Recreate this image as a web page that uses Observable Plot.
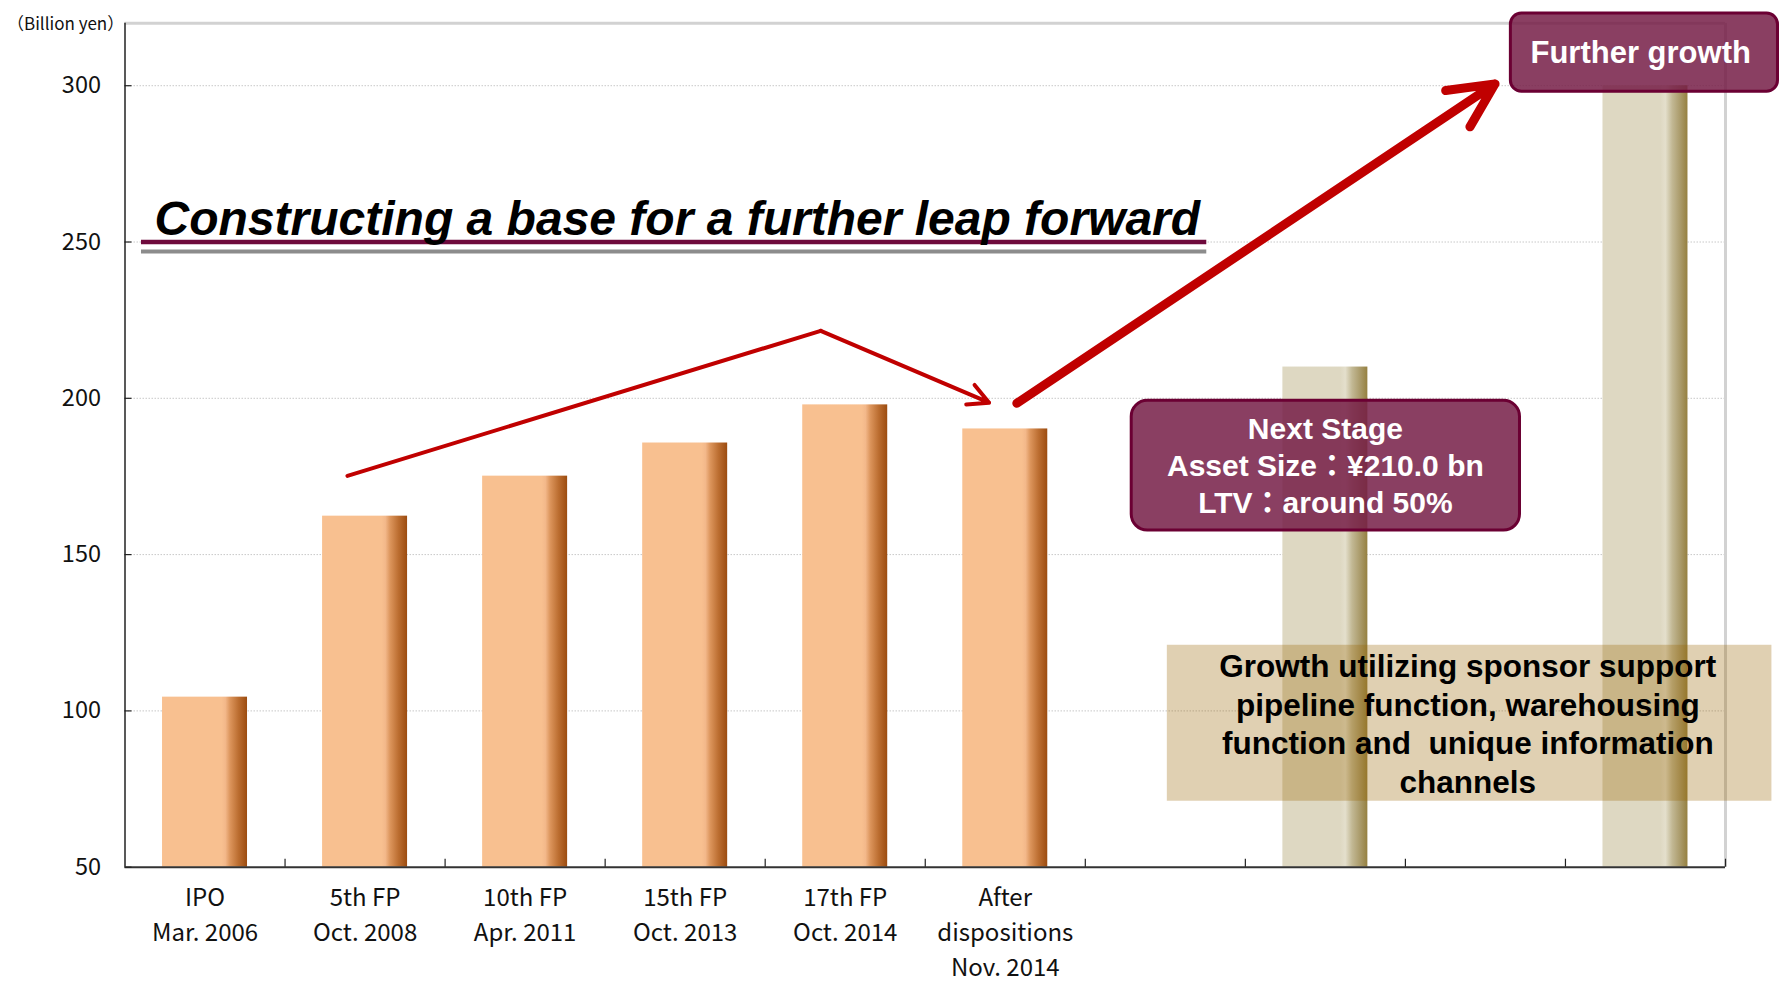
<!DOCTYPE html>
<html>
<head>
<meta charset="utf-8">
<script src="https://cdn.jsdelivr.net/npm/d3@7"></script>
<script src="https://cdn.jsdelivr.net/npm/@observablehq/plot@0.6"></script>
<style>
  html, body { margin: 0; padding: 0; background: #fff; }
  #chart svg { display: block; }
</style>
</head>
<body>
<div id="chart"></div>
<script>
// ---------- data ----------
const categoryLabels = [
  "IPO\nMar. 2006",
  "5th FP\nOct. 2008",
  "10th FP\nApr. 2011",
  "15th FP\nOct. 2013",
  "17th FP\nOct. 2014",
  "After\ndispositions\nNov. 2014",
  "", "", "", ""
];
const assetSize = [104.4, 162.3, 175.1, 185.7, 197.9, 190.2]; // billion yen
const stageSlots = [7, 9];
const stageValues = [210, 300];
const yTicks = [50, 100, 150, 200, 250, 300];
const yMin = 50, yMax = 320;
const yUnit = "（Billion yen）";
const titleText = "Constructing a base for a further leap forward";
const nextStageText = "Next Stage\nAsset Size：¥210.0 bn\nLTV：around 50%";
const furtherText = "Further growth";
const sponsorText = "Growth utilizing sponsor support\npipeline function, warehousing\nfunction and  unique information\nchannels";

// annotation anchors (x = category slot, y = billion yen)
const trendLine = [{x: 1.39, y: 175.2}, {x: 4.347, y: 221.6}];
const trendArrow = [{x1: 4.347, y1: 221.6, x2: 5.399, y2: 198.6}];
const growthArrow = [{x1: 5.572, y1: 198.4, x2: 8.56, y2: 300.6}];
const nextStageBox = [{x1: 6.29, x2: 8.716, y1: 157.7, y2: 199.2, tx: 7.5, ty: 178.9}];
const furtherBox = [{x1: 8.659, x2: 10.328, y1: 298.1, y2: 323.1, tx: 9.47, ty: 310.5}];
const sponsorBox = [{x1: 6.5125, x2: 10.29, y1: 71.1, y2: 121.0, tx: 8.39, ty: 96.2}];
const titleUnder = [{x1: 0.103, x2: 6.759, y: 250.0}];
const titleGray = [{x1: 0.103, x2: 6.759, y: 247.0}];
const titleAnchor = [{x: 0.185, y: 257.1}];

// ---------- derived tables ----------
const barGap = 0.2345;
const bars = assetSize.map((v, i) => ({slot: i, value: v}));
const stageBars = stageSlots.map((s, i) => ({slot: s, value: stageValues[i]}));
const xTickSlots = d3.range(1, categoryLabels.length + 1);
const gridValues = yTicks.filter(v => v > yMin);

const tickFont = "'Noto Sans CJK JP', 'Noto Sans', sans-serif";
const boldFont = "'Liberation Sans', Arial, 'Noto Sans CJK JP', sans-serif";

const svg = Plot.plot({
  width: 1781,
  height: 982,
  marginLeft: 124.5,
  marginRight: 56,
  marginTop: 22.7,
  marginBottom: 115.3,
  style: {background: "white", fontFamily: tickFont, overflow: "visible"},
  x: {type: "linear", domain: [0, categoryLabels.length], axis: null},
  y: {domain: [yMin, yMax], axis: null},
  marks: [
    // grid
    Plot.ruleY(gridValues, {stroke: "#c8c8c8", strokeWidth: 1, strokeDasharray: "1.5,1.5"}),
    // frame (top, right)
    Plot.ruleY([yMax], {stroke: "#d2d2d2", strokeWidth: 3}),
    Plot.ruleX([categoryLabels.length], {stroke: "#d2d2d2", strokeWidth: 3}),
    // bars
    Plot.rect(bars, {x1: d => d.slot + barGap, x2: d => d.slot + 1 - barGap, y1: yMin, y2: "value", fill: "url(#orangeGrad)"}),
    Plot.rect(stageBars, {x1: d => d.slot + barGap, x2: d => d.slot + 1 - barGap, y1: yMin, y2: "value", fill: "url(#beigeGrad)"}),
    // axes
    Plot.ruleX([0], {stroke: "#222", strokeWidth: 1.5}),
    Plot.ruleY([yMin], {stroke: "#333", strokeWidth: 2}),
    Plot.ruleY(yTicks, {x1: 0, x2: 0, insetRight: -7, stroke: "#222", strokeWidth: 1.2}),
    Plot.ruleX(xTickSlots, {y1: yMin, y2: yMin, insetTop: -8, stroke: "#222", strokeWidth: 1.2}),
    Plot.text(yTicks, {x: 0, y: d => d, text: d => String(d), textAnchor: "end", dx: -24, fontSize: 23.5, fontFamily: tickFont, fill: "#111"}),
    Plot.text(categoryLabels, {x: (d, i) => i + 0.5, y: yMin, text: d => d, lineAnchor: "top", dy: 14, lineHeight: 1.46, fontSize: 24, fontFamily: tickFont, fill: "#111"}),
    Plot.text([yUnit], {frameAnchor: "top-left", text: d => d, textAnchor: "start", dx: -118, dy: -5, fontSize: 17, fontFamily: tickFont, fill: "#111"}),
    // title
    Plot.ruleY(titleUnder, {x1: "x1", x2: "x2", y: "y", stroke: "#6e0a3c", strokeWidth: 4.3}),
    Plot.ruleY(titleGray, {x1: "x1", x2: "x2", y: "y", stroke: "#8c8c8c", strokeWidth: 4}),
    Plot.text(titleAnchor, {x: "x", y: "y", text: () => titleText, textAnchor: "start", fontSize: 48, fontWeight: "bold", fontStyle: "italic", fontFamily: boldFont, fill: "#000"}),
    // arrows
    Plot.line(trendLine, {x: "x", y: "y", stroke: "#c00000", strokeWidth: 4}),
    Plot.arrow(trendArrow, {x1: "x1", y1: "y1", x2: "x2", y2: "y2", stroke: "#c00000", strokeWidth: 4, headLength: 8.6, headAngle: 55}),
    Plot.arrow(growthArrow, {x1: "x1", y1: "y1", x2: "x2", y2: "y2", stroke: "#c00000", strokeWidth: 9, headLength: 8.3, headAngle: 52}),
    // boxes
    Plot.rect(sponsorBox, {x1: "x1", x2: "x2", y1: "y1", y2: "y2", fill: "rgb(152,98,0)", fillOpacity: 0.3}),
    Plot.text(sponsorBox, {x: "tx", y: "ty", text: () => sponsorText, lineHeight: 1.225, fontSize: 31.5, fontWeight: "bold", fontFamily: boldFont, fill: "#000"}),
    Plot.rect(nextStageBox, {x1: "x1", x2: "x2", y1: "y1", y2: "y2", rx: 16, fill: "rgb(118,29,71)", fillOpacity: 0.85, stroke: "#6b0033", strokeWidth: 3}),
    Plot.text(nextStageBox, {x: "tx", y: "ty", text: () => nextStageText, lineHeight: 1.22, fontSize: 30, fontWeight: "bold", fontFamily: boldFont, fill: "#fff"}),
    Plot.rect(furtherBox, {x1: "x1", x2: "x2", y1: "y1", y2: "y2", rx: 11, fill: "rgb(118,29,71)", fillOpacity: 0.85, stroke: "#6b0033", strokeWidth: 3}),
    Plot.text(furtherBox, {x: "tx", y: "ty", text: () => furtherText, fontSize: 31, fontWeight: "bold", fontFamily: boldFont, fill: "#fff"})
  ]
});

// gradients for the bar shading
const defs = d3.select(svg).insert("defs", ":first-child");
function grad(id, stops) {
  const g = defs.append("linearGradient").attr("id", id).attr("x1", 0).attr("x2", 1).attr("y1", 0).attr("y2", 0);
  stops.forEach(([o, c]) => g.append("stop").attr("offset", o).attr("stop-color", c));
}
grad("orangeGrad", [[0, "#f8c090"], [0.70, "#f8c090"], [0.745, "#f3b88a"], [0.80, "#dc955c"], [0.90, "#bb6d30"], [1, "#9c4c10"]]);
grad("beigeGrad", [[0, "#ded8c2"], [0.68, "#ded8c2"], [0.74, "#e4dfcc"], [0.82, "#c2b894"], [0.92, "#a99968"], [1, "#958040"]]);

document.getElementById("chart").appendChild(svg);
</script>
</body>
</html>
